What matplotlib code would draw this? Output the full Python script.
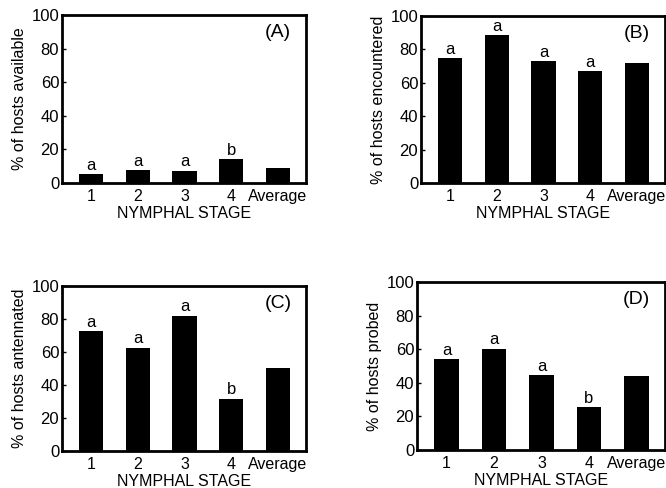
import matplotlib
matplotlib.use("Agg")
import matplotlib.pyplot as plt
import numpy as np

plt.rcParams['font.family'] = ['Liberation Sans', 'DejaVu Sans']

categories = ["1", "2", "3", "4", "Average"]
available = [5.2, 7.7, 7.3, 14.3, 9.1]
encountered = [74.7, 88.6, 73.0, 67.0, 72.0]
antennated = [72.5, 62.5, 82.0, 31.8, 50.3]
probed = [54.0, 60.2, 44.7, 25.3, 44.0]

letters_a = ["a", "a", "a", "b", ""]
letters_b = ["a", "a", "a", "a", ""]
letters_c = ["a", "a", "a", "b", ""]
letters_d = ["a", "a", "a", "b", ""]

ylabels = ["% of hosts available", "% of hosts encountered",
           "% of hosts antennated", "% of hosts probed"]
panel_tags = ["(A)", "(B)", "(C)", "(D)"]
yticks = [0, 20, 40, 60, 80, 100]

W, H = 666, 488
fig = plt.figure(figsize=(W / 100, H / 100), dpi=100)

def rect(l, r, t, b):
    return [l / W, 1 - b / H, (r - l) / W, (b - t) / H]

rects = [rect(62, 306, 15, 183), rect(421, 665, 16, 183),
         rect(62, 306, 286, 451), rect(417, 665, 282, 450)]
datasets = [available, encountered, antennated, probed]
letters = [letters_a, letters_b, letters_c, letters_d]

for r, vals, let, yl, tag in zip(rects, datasets, letters, ylabels, panel_tags):
    ax = fig.add_axes(r)
    x = np.arange(len(categories))
    ax.bar(x, vals, width=0.52, color='black')
    ax.set_xlim(-0.62, 4.6)
    ax.set_ylim(0, 100)
    ax.set_xticks(x)
    ax.set_xticklabels(categories, fontsize=11.5)
    ax.set_yticks(yticks)
    ax.set_yticklabels([str(t) for t in yticks], fontsize=12)
    ax.tick_params(axis='x', length=0, pad=4)
    ax.tick_params(axis='y', direction='in', length=3, width=1, pad=2)
    for s in ax.spines.values():
        s.set_linewidth(2)
    ax.set_xlabel("NYMPHAL STAGE", fontsize=11.5, labelpad=2)
    ax.set_ylabel(yl, fontsize=11.5, labelpad=3)
    for xi, v, l in zip(x, vals, let):
        if l:
            ax.annotate(l, (xi, v), xytext=(0, 1), textcoords='offset points',
                        ha='center', va='bottom', fontsize=12)
    ax.text(0.885, 0.895, tag, transform=ax.transAxes, ha='center', va='center',
            fontsize=14)

fig.savefig("out.png", dpi=100)
